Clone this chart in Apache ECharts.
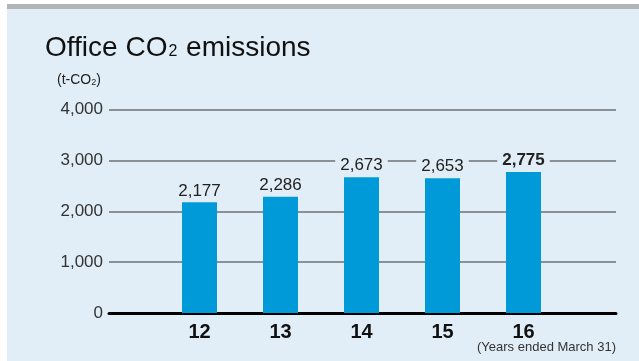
<!DOCTYPE html>
<html>
<head>
<meta charset="utf-8">
<script src="https://cdn.jsdelivr.net/npm/echarts@6/dist/echarts.min.js"></script>
<style>
  html, body { margin: 0; padding: 0; background: #ffffff; }
  #chart { width: 639px; height: 361px; }
</style>
</head>
<body>
<div id="chart"></div>
<script>
// Fiscal years (ended March 31) and office CO2 emissions in t-CO2
const years = ['12', '13', '14', '15', '16'];
const emissions = [2177, 2286, 2673, 2653, 2775];
const yTicks = [0, 1000, 2000, 3000, 4000];

const FONT = '"Liberation Sans", Arial, Helvetica, sans-serif';
const BG = '#e1eef7';
const fmt = v => v.toLocaleString('en-US');

const chart = echarts.init(document.getElementById('chart'), null, { renderer: 'canvas' });

chart.setOption({
  animation: false,
  backgroundColor: 'transparent',
  graphic: [
    { type: 'rect', z: -10, shape: { x: 7, y: 4, width: 632, height: 5 }, style: { fill: '#b3b4b5' } },
    { type: 'rect', z: -10, shape: { x: 7, y: 9, width: 632, height: 352 }, style: { fill: BG } },
    {
      type: 'text', left: 45, top: 34,
      style: {
        text: '{a|Office CO}{s|2}{a| emissions}',
        rich: {
          a: { fontSize: 28, fontFamily: FONT, fill: '#111' },
          s: { fontSize: 16, fontFamily: FONT, fill: '#111', padding: [8, 1, 0, 1] }
        }
      }
    },
    {
      type: 'text', left: 57, top: 73,
      style: {
        text: '{a|(t-CO}{s|2}{a|)}',
        rich: {
          a: { fontSize: 14, fontFamily: FONT, fill: '#222' },
          s: { fontSize: 9, fontFamily: FONT, fill: '#222', padding: [5, 0, 0, 0] }
        }
      }
    },
    {
      type: 'text', right: 23, top: 341,
      style: { text: '(Years ended March 31)', fontSize: 13, fontFamily: FONT, fill: '#333' }
    }
  ],
  grid: [
    // full-width grid for the value scale and gridlines
    { left: 109, right: 23, top: 109.7, bottom: 48 },
    // narrower grid holding the bars
    { left: 159, right: 75, top: 109.7, bottom: 48 }
  ],
  xAxis: [
    {
      gridIndex: 0, type: 'category', data: [''],
      axisLine: { show: true, lineStyle: { color: '#000', width: 3 } },
      axisTick: { show: false }, axisLabel: { show: false }
    },
    {
      gridIndex: 1, type: 'category', data: years,
      axisLine: { show: false }, axisTick: { show: false },
      axisLabel: { fontSize: 20, fontWeight: 'bold', fontFamily: FONT, color: '#111', margin: 9 }
    }
  ],
  yAxis: [
    {
      gridIndex: 0, type: 'value', min: yTicks[0], max: yTicks[yTicks.length - 1], interval: 1000,
      axisLine: { show: false }, axisTick: { show: false },
      axisLabel: { fontSize: 17, fontFamily: FONT, color: '#333', margin: 6, formatter: v => fmt(v) },
      splitLine: { lineStyle: { color: '#6e7073', width: 1.5 } }
    },
    {
      gridIndex: 1, type: 'value', min: yTicks[0], max: yTicks[yTicks.length - 1], interval: 1000,
      show: false, splitLine: { show: false }
    }
  ],
  series: [{
    type: 'bar', xAxisIndex: 1, yAxisIndex: 1,
    data: emissions.map((v, i) => ({
      value: v,
      label: i === emissions.length - 1 ? { fontWeight: 'bold' } : {}
    })),
    barWidth: 35,
    itemStyle: { color: '#009ad9' },
    z: 3,
    label: {
      show: true, position: 'top', distance: 3,
      fontSize: 17, fontFamily: FONT, color: '#222',
      backgroundColor: BG, padding: [1, 5, 0, 5],
      formatter: p => fmt(p.value)
    }
  }]
});
</script>
</body>
</html>
